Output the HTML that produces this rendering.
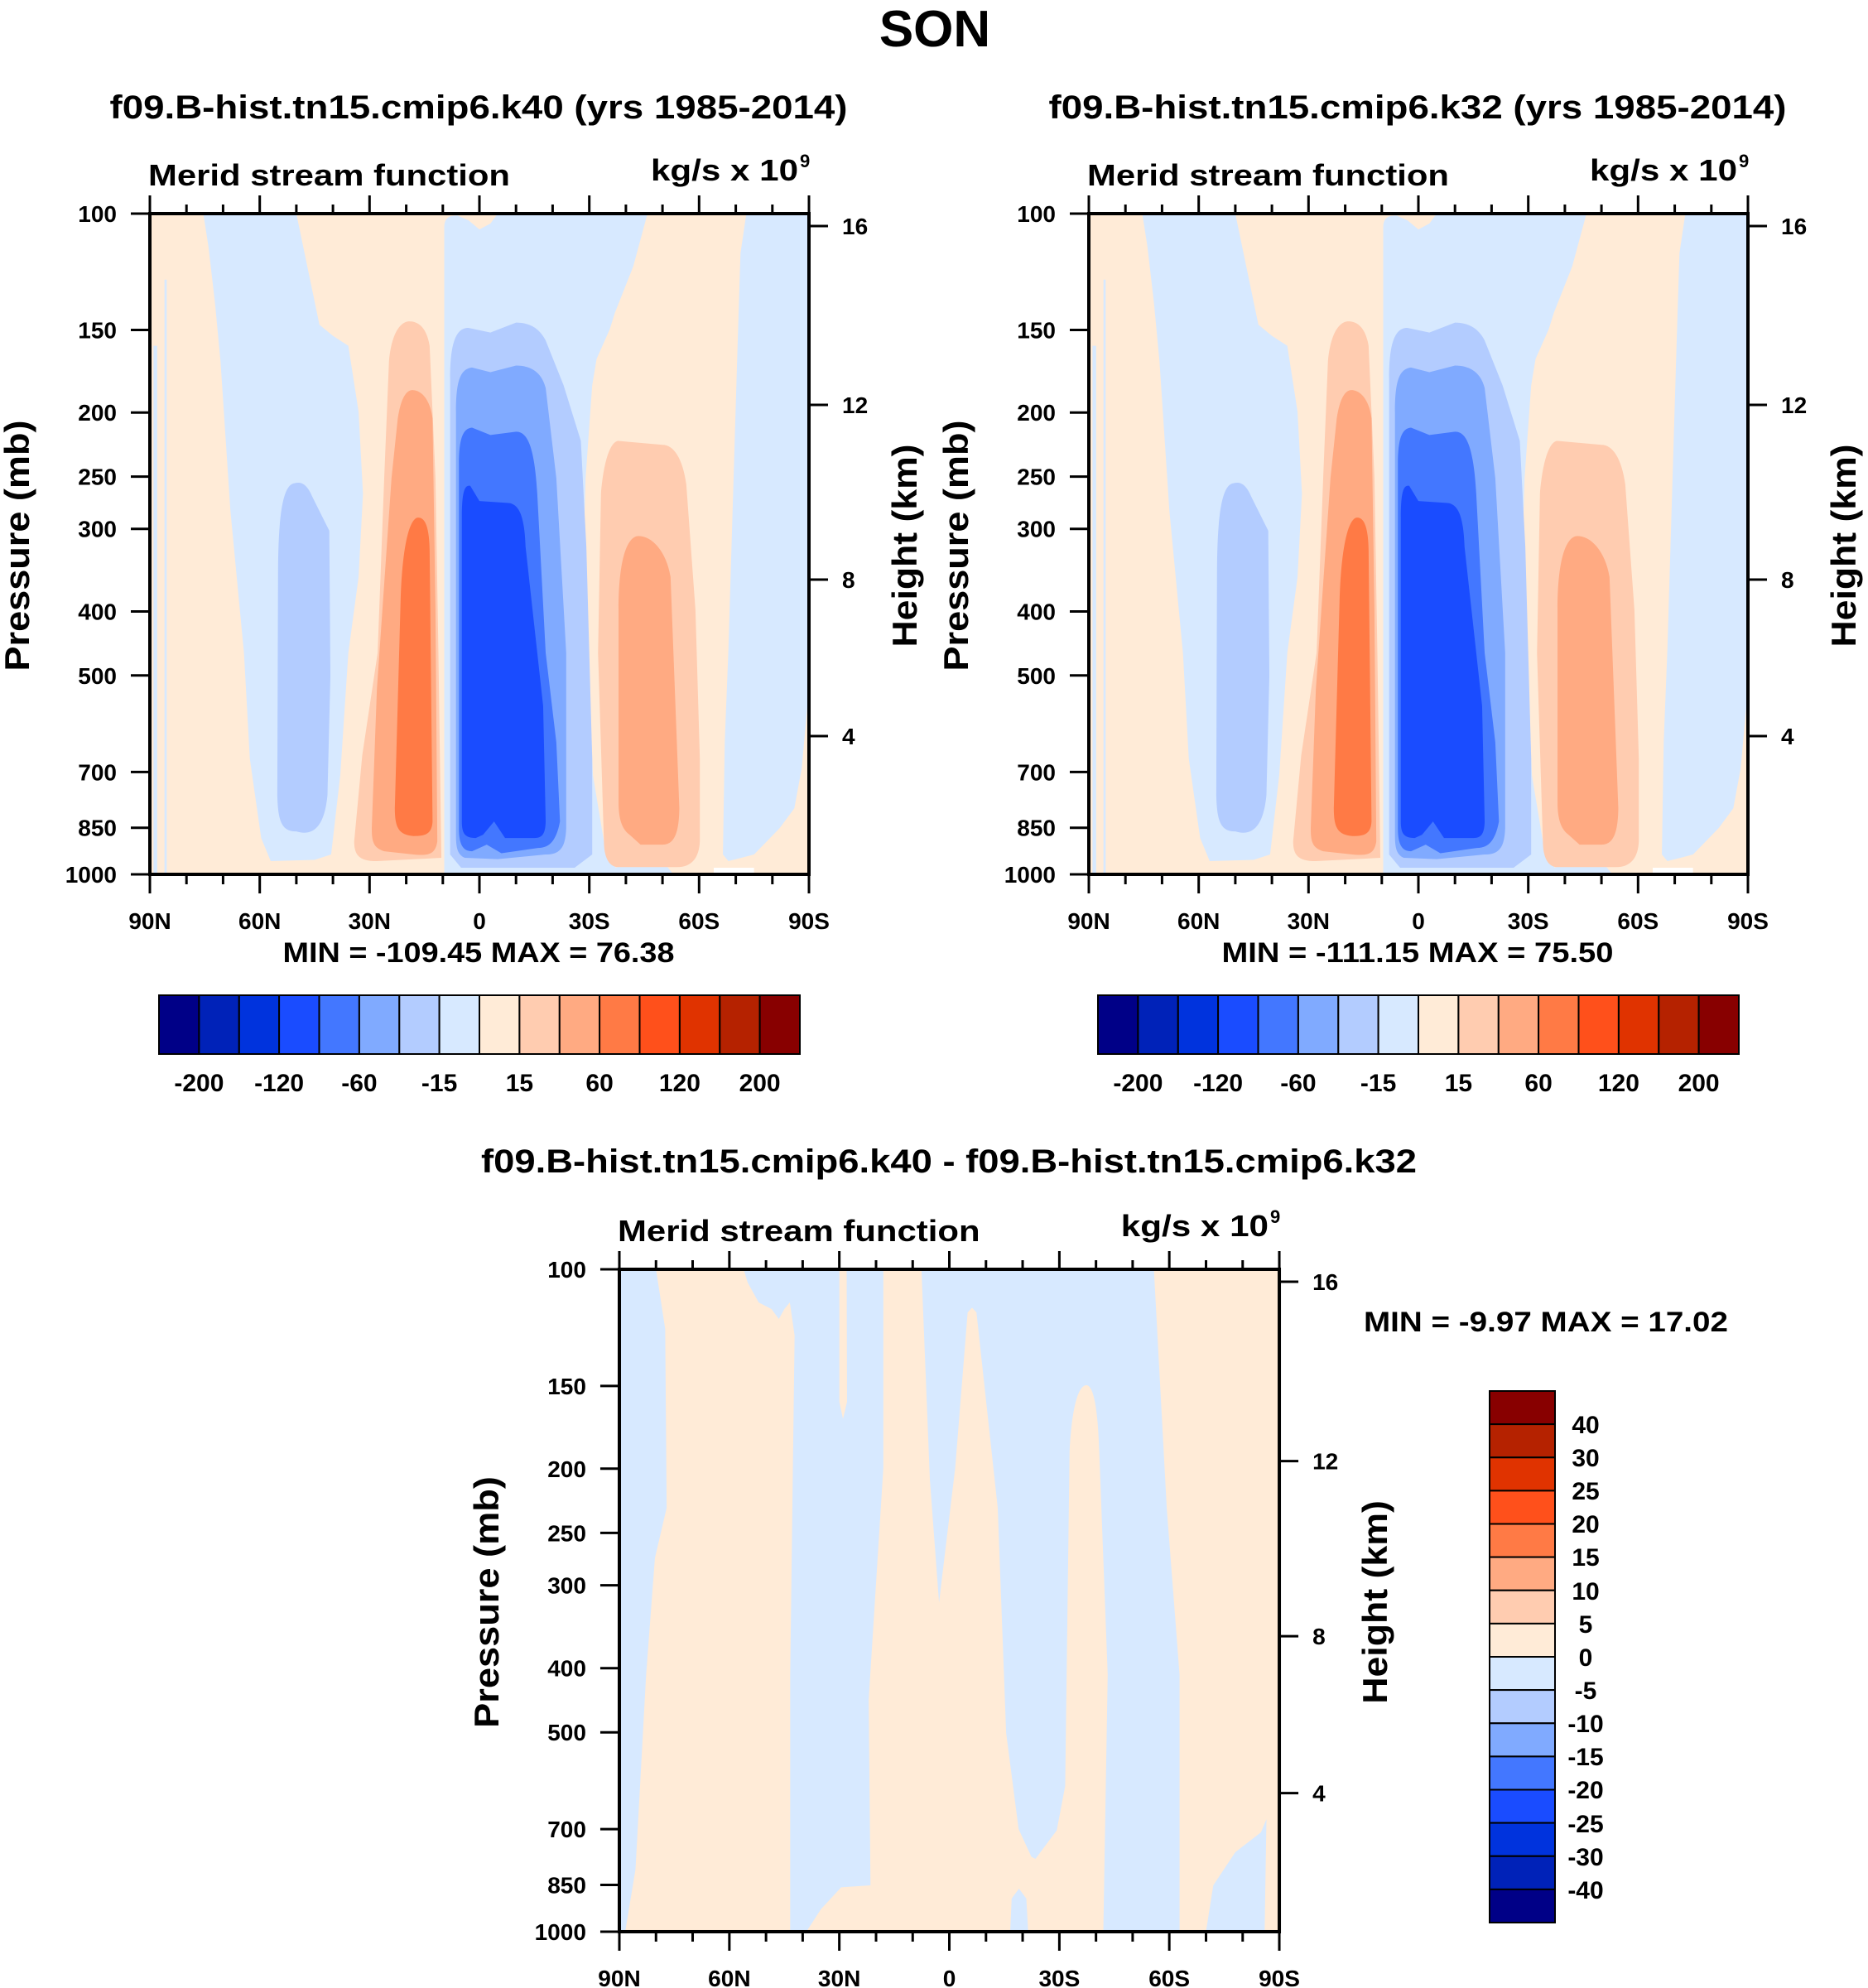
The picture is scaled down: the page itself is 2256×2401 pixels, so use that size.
<!DOCTYPE html>
<html><head><meta charset="utf-8"><style>
html,body{margin:0;padding:0;background:#fff}
svg{display:block}
text{font-family:"Liberation Sans",Arial,sans-serif;font-weight:bold;fill:#000}
</style></head><body>
<svg width="2256" height="2401" viewBox="0 0 2256 2401" xmlns="http://www.w3.org/2000/svg">
<defs>
<g id="content">
<rect x="0" y="0" width="180" height="100" fill="#ffebd7"/>
<path fill="#d7e9ff" d="M14.6,0 L40,0 L43,8 L46.3,16.8 L50,18.5 L54.2,20 L57,30 L58.2,42.4 L57,55 L54.2,66.5 L52,85 L49.5,97 L45,97.8 L33,98 L30.4,94.5 L27.3,82.5 L25.7,66.5 L22,45 L19.3,22.4 L17.8,13.6 L16,5 Z"/>
<path fill="#b3ccff" d="M35,55 C35,45 36.5,41 39.5,40.8 C41.5,40.5 43,41 44.5,43 L49,48 L49.3,70 L48.5,88 C47.5,94 43,94 40,93.5 C36,93.5 35,92 34.8,88 Z"/>
<path fill="#d7e9ff" d="M80.4,2 C80.5,0.5 82,0.3 84,0.3 L87,1 L90,2.4 L93,1.5 L95,0 L135.9,0 L132,8 L127,15 L125.6,17.5 L122,22 L120.8,26 L119,40 L118.5,50 L120,70 L121,85 L124,95 L127.2,99 L132,98 L140,98 L143,100 L80.4,100 Z"/>
<path fill="#d7e9ff" d="M162.9,0 L180,0 L180,72 L178,84 L176,90 L172,93 L165,97 L158,98 L156.5,97 L157,80 L158,66 L160.5,20 L161.3,6 Z"/>
<path fill="#d7e9ff" d="M1,20 L2,20 L2,100 L1,100 Z M4,10 L4.6,10 L4.6,100 L4,100 Z"/>
<path fill="#b3ccff" d="M82,25 C82,19 84,17.3 87,17.3 L93,18 L100,16.5 C104,16.5 106.5,17.5 108.1,19.2 L113,26 L117.7,34.4 L119.2,50.4 L120.8,82.5 L120.8,97 L116,99 L85,99 L82,97 Z"/>
<path fill="#80aaff" d="M83.6,30 C83.6,25 85,23.5 88,23.3 L93,24 L100,23 C104,23 107,24 108.1,26.4 L111,40 L113.7,66.5 L113.7,93 C113.5,96 112,97 108,97 L95,97.7 L86,97.5 C84,97 83.6,96 83.6,94 Z"/>
<path fill="#4377ff" d="M84.4,38 C84.4,34 85.5,32.5 88,32.4 L93,33.5 L100,33 C103,33 105,35 105.8,42.4 L108.1,66.5 L111,80 L112,92 C111,95 109,96 106,96 L96,96.8 L92,95.5 L88,96.5 C85.5,96.5 84.4,95.5 84.4,93 Z"/>
<path fill="#1a4cff" d="M85.2,46 C85.2,42 86,41 87.5,41.2 L90,43.5 L98,43.8 C101,44 102.3,46 102.6,50.4 L107.4,74.5 L108.1,92 C108,94 107,94.5 105,94.5 L97,94.5 L94,92 L91,94 L89,94.5 C86,94.5 85.2,93.8 85.2,92 Z"/>
<path fill="#ffccb0" d="M70.9,16.3 C73,16.3 75.5,17 76.4,20 L78,40 L78.8,66.5 L79.6,97.5 L62,98 C57,98 55.8,97 55.8,95 L58,82 L62.2,66.5 L64,40 L65.3,22.4 C66,18 68.5,16.3 70.9,16.3 Z"/>
<path fill="#ffaa82" d="M71.7,26.7 C74,26.7 76.5,28 77.2,31 L78,60 L78.5,95 C78,97 76,97.2 72,97 L64,96.5 C61,96 60.6,95 60.6,93 L62,72 L66,40 L67.7,31 C68.5,28 70,26.7 71.7,26.7 Z"/>
<path fill="#ff7a45" d="M73.3,46 C75.5,46 76.3,48 76.4,51 L77.2,92 C77,94 75,94.2 72,94.2 C68,94 66.9,93 66.9,90 L68.5,58 C69,50 71,46 73.3,46 Z"/>
<path fill="#ffccb0" d="M128,34.4 L140,35 C143,35 145.5,37 146.5,41 L149,60 L150.2,82.5 L150.2,95 C150,97.5 148,98.9 144,98.9 L128,98.9 C125,98.9 124,97 124,95 L122.4,66.5 L123.2,42.4 C124,37 126,34.4 128,34.4 Z"/>
<path fill="#ffaa82" d="M133.5,48.8 C137,48.8 141,51 142.2,55 L144.6,90 C144.5,94 143,95.5 140,95.5 L134,95.5 L131,94 C128.5,93 128,91 128,89 L128,60 C128,52 130.5,48.8 133.5,48.8 Z"/>
<path fill="#ffffff" d="M154,99 L165,99 L165,100 L154,100 Z"/>
</g>
<g id="ax">
<rect x="0" y="0" width="796" height="798" fill="none" stroke="#000" stroke-width="4"/>
<g stroke="#000" stroke-width="3">
<path d="M-23,0H0M-23,140.5H0M-23,240.2H0M-23,317.6H0M-23,380.7H0M-23,480.5H0M-23,557.8H0M-23,674.4H0M-23,741.7H0M-23,798H0"/>
<path d="M796,15H819M796,231H819M796,442H819M796,631H819"/>
<path d="M0,0V-22M132.7,0V-22M265.3,0V-22M398,0V-22M530.7,0V-22M663.3,0V-22M796,0V-22"/>
<path d="M44.2,0V-11M88.4,0V-11M176.9,0V-11M221.1,0V-11M309.6,0V-11M353.8,0V-11M442.2,0V-11M486.4,0V-11M574.9,0V-11M619.1,0V-11M707.6,0V-11M751.8,0V-11"/>
<path d="M0,798V821M132.7,798V821M265.3,798V821M398,798V821M530.7,798V821M663.3,798V821M796,798V821"/>
<path d="M44.2,798V810M88.4,798V810M176.9,798V810M221.1,798V810M309.6,798V810M353.8,798V810M442.2,798V810M486.4,798V810M574.9,798V810M619.1,798V810M707.6,798V810M751.8,798V810"/>
</g>
<g font-size="28" text-anchor="end">
<text x="-40" y="10">100</text><text x="-40" y="150.5">150</text><text x="-40" y="250.2">200</text><text x="-40" y="327.6">250</text><text x="-40" y="390.7">300</text><text x="-40" y="490.5">400</text><text x="-40" y="567.8">500</text><text x="-40" y="684.4">700</text><text x="-40" y="751.7">850</text><text x="-40" y="808">1000</text>
</g>
<g font-size="28">
<text x="836" y="25">16</text><text x="836" y="241">12</text><text x="836" y="452">8</text><text x="836" y="641">4</text>
</g>
<g font-size="28" text-anchor="middle">
<text x="0" y="864">90N</text><text x="132.7" y="864">60N</text><text x="265.3" y="864">30N</text><text x="398" y="864">0</text><text x="530.7" y="864">30S</text><text x="663.3" y="864">60S</text><text x="796" y="864">90S</text>
</g>
<text x="-2" y="-34" font-size="36" textLength="437" lengthAdjust="spacingAndGlyphs">Merid stream function</text>
<text x="605" y="-40" font-size="36" textLength="178" lengthAdjust="spacingAndGlyphs">kg/s x 10</text>
<text x="785" y="-56" font-size="22">9</text>
<text transform="translate(-146,401) rotate(-90)" font-size="42" text-anchor="middle" textLength="303" lengthAdjust="spacingAndGlyphs">Pressure (mb)</text>
<text transform="translate(926,401) rotate(-90)" font-size="42" text-anchor="middle" textLength="245" lengthAdjust="spacingAndGlyphs">Height (km)</text>
</g>
<g id="cb">
<g stroke="#000" stroke-width="2">
<rect x="192" y="1202" width="48.4" height="71" fill="#000087"/>
<rect x="240.4" y="1202" width="48.4" height="71" fill="#0022b8"/>
<rect x="288.8" y="1202" width="48.4" height="71" fill="#0033dd"/>
<rect x="337.1" y="1202" width="48.4" height="71" fill="#1a4cff"/>
<rect x="385.5" y="1202" width="48.4" height="71" fill="#4377ff"/>
<rect x="433.9" y="1202" width="48.4" height="71" fill="#80aaff"/>
<rect x="482.3" y="1202" width="48.4" height="71" fill="#b3ccff"/>
<rect x="530.6" y="1202" width="48.4" height="71" fill="#d7e9ff"/>
<rect x="579" y="1202" width="48.4" height="71" fill="#ffebd7"/>
<rect x="627.4" y="1202" width="48.4" height="71" fill="#ffccb0"/>
<rect x="675.8" y="1202" width="48.4" height="71" fill="#ffaa82"/>
<rect x="724.1" y="1202" width="48.4" height="71" fill="#ff7a45"/>
<rect x="772.5" y="1202" width="48.4" height="71" fill="#ff501b"/>
<rect x="820.9" y="1202" width="48.4" height="71" fill="#e03300"/>
<rect x="869.3" y="1202" width="48.4" height="71" fill="#b52200"/>
<rect x="917.6" y="1202" width="48.4" height="71" fill="#880000"/>
</g>
<g font-size="30" text-anchor="middle">
<text x="240.4" y="1318">-200</text><text x="337.1" y="1318">-120</text><text x="433.9" y="1318">-60</text><text x="530.6" y="1318">-15</text><text x="627.4" y="1318">15</text><text x="724.1" y="1318">60</text><text x="820.9" y="1318">120</text><text x="917.6" y="1318">200</text>
</g>
</g>
</defs>

<text x="1129" y="56" font-size="62" text-anchor="middle">SON</text>
<text x="578" y="143" font-size="40" text-anchor="middle" textLength="891" lengthAdjust="spacingAndGlyphs">f09.B-hist.tn15.cmip6.k40 (yrs 1985-2014)</text>
<text x="1712" y="143" font-size="40" text-anchor="middle" textLength="891" lengthAdjust="spacingAndGlyphs">f09.B-hist.tn15.cmip6.k32 (yrs 1985-2014)</text>

<!-- Panel 1 -->
<g transform="translate(181,258) scale(4.4222,7.98)"><use href="#content"/></g>
<g transform="translate(181,258)"><use href="#ax"/></g>
<text x="578" y="1162" font-size="34" text-anchor="middle" textLength="473" lengthAdjust="spacingAndGlyphs">MIN = -109.45  MAX =  76.38</text>
<use href="#cb"/>

<!-- Panel 2 -->
<g transform="translate(1315,258) scale(4.4222,7.98)"><use href="#content"/></g>
<g transform="translate(1315,258)"><use href="#ax"/></g>
<text x="1712" y="1162" font-size="34" text-anchor="middle" textLength="473" lengthAdjust="spacingAndGlyphs">MIN = -111.15  MAX =  75.50</text>
<g transform="translate(1134,0)"><use href="#cb"/></g>

<!-- Bottom panel -->
<text x="1146" y="1416" font-size="40" text-anchor="middle" textLength="1130" lengthAdjust="spacingAndGlyphs">f09.B-hist.tn15.cmip6.k40 - f09.B-hist.tn15.cmip6.k32</text>
<g transform="translate(748,1533) scale(4.4278,8.0)">
<rect x="0" y="0" width="180" height="100" fill="#ffebd7"/>
<path fill="#d7e9ff" d="M0,0 L10,0 L12.5,9 L12.9,36 L9.7,43.6 L7.3,61.2 L4.4,90.6 L1.6,100 L0,100 Z"/>
<path fill="#d7e9ff" d="M33.9,0 L72,0 L72,30 L68,65 L68.5,93 L60.5,93.3 L55,96.6 L51,100 L46.6,100 L46.6,93 L46.6,61 L47.8,10 L46.5,5 L45,6 L43.5,7.5 L41.5,6 L38,5 L35,2 Z"/>
<path fill="#ffebd7" d="M60,0 L62,0 L62.1,20 L61,22.6 L60,20 Z"/>
<path fill="#d7e9ff" d="M82.4,0 L84.7,31.8 L87.2,50.3 L91.6,30 L95,6.5 L96.2,5.8 L97.4,6.5 L103.2,36 L105.5,70 L108.9,84.5 L112.4,88.7 L113.5,89 L119.3,84.7 L121.6,78 L122.8,27.6 C123.5,20 125.5,17.5 127.4,17.5 C129,17.5 130.5,20 130.9,27.6 L133.2,61.2 L132,100 L152.8,100 L152.8,61.2 L149.3,36 L145.8,0 Z"/>
<path fill="#d7e9ff" d="M106.6,100 L107,95 L109,93.5 L111,95 L111.5,100 Z"/>
<path fill="#d7e9ff" d="M160,100 L162,93 L168,88 L175,85 L176.5,83 L176,100 Z"/>
</g>
<g transform="translate(748,1533) scale(1.0013,1.0025)"><use href="#ax"/></g>
<text x="1647" y="1608" font-size="34" textLength="440" lengthAdjust="spacingAndGlyphs">MIN =  -9.97  MAX =  17.02</text>
<g stroke="#000" stroke-width="2">
<rect x="1799" y="1680" width="79" height="40.1" fill="#880000"/>
<rect x="1799" y="1720.1" width="79" height="40.1" fill="#b52200"/>
<rect x="1799" y="1760.3" width="79" height="40.1" fill="#e03300"/>
<rect x="1799" y="1800.4" width="79" height="40.1" fill="#ff501b"/>
<rect x="1799" y="1840.5" width="79" height="40.1" fill="#ff7a45"/>
<rect x="1799" y="1880.6" width="79" height="40.1" fill="#ffaa82"/>
<rect x="1799" y="1920.8" width="79" height="40.1" fill="#ffccb0"/>
<rect x="1799" y="1960.9" width="79" height="40.1" fill="#ffebd7"/>
<rect x="1799" y="2001" width="79" height="40.1" fill="#d7e9ff"/>
<rect x="1799" y="2041.1" width="79" height="40.1" fill="#b3ccff"/>
<rect x="1799" y="2081.3" width="79" height="40.1" fill="#80aaff"/>
<rect x="1799" y="2121.4" width="79" height="40.1" fill="#4377ff"/>
<rect x="1799" y="2161.5" width="79" height="40.1" fill="#1a4cff"/>
<rect x="1799" y="2201.6" width="79" height="40.1" fill="#0033dd"/>
<rect x="1799" y="2241.8" width="79" height="40.1" fill="#0022b8"/>
<rect x="1799" y="2281.9" width="79" height="40.1" fill="#000087"/>
</g>
<g font-size="30" text-anchor="middle">
<text x="1915" y="1731">40</text><text x="1915" y="1771">30</text><text x="1915" y="1811">25</text><text x="1915" y="1851">20</text><text x="1915" y="1891">15</text><text x="1915" y="1932">10</text><text x="1915" y="1972">5</text><text x="1915" y="2012">0</text><text x="1915" y="2052">-5</text><text x="1915" y="2092">-10</text><text x="1915" y="2132">-15</text><text x="1915" y="2172">-20</text><text x="1915" y="2213">-25</text><text x="1915" y="2253">-30</text><text x="1915" y="2293">-40</text>
</g>
</svg>
</body></html>
